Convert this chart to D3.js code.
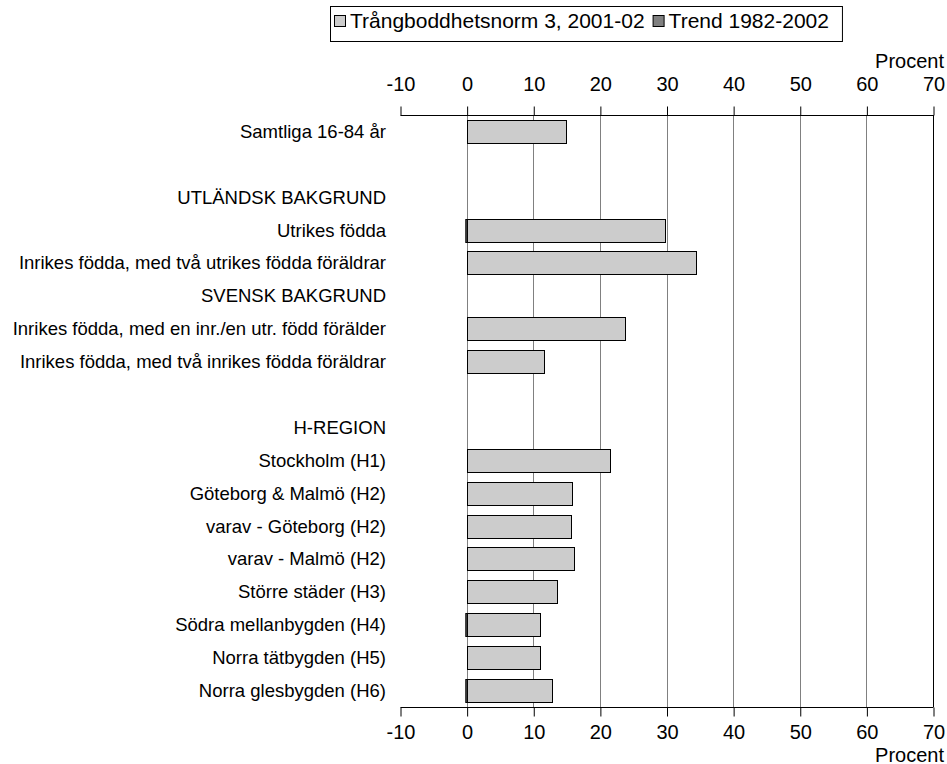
<!DOCTYPE html>
<html>
<head>
<meta charset="utf-8">
<script src="https://cdn.jsdelivr.net/npm/d3@7"></script>
<style>
  body { margin: 0; background: #fff; }
  svg { display: block; font-family: "Liberation Sans", Arial, sans-serif; }
</style>
</head>
<body>
<svg id="chart" width="947" height="764"></svg>
<script>
// ---- data ----
const categories = [
  "Samtliga 16-84 år",
  "",
  "UTLÄNDSK BAKGRUND",
  "Utrikes födda",
  "Inrikes födda, med två utrikes födda föräldrar",
  "SVENSK BAKGRUND",
  "Inrikes födda, med en inr./en utr. född förälder",
  "Inrikes födda, med två inrikes födda föräldrar",
  "",
  "H-REGION",
  "Stockholm (H1)",
  "Göteborg & Malmö (H2)",
  "varav - Göteborg (H2)",
  "varav - Malmö (H2)",
  "Större städer (H3)",
  "Södra mellanbygden (H4)",
  "Norra tätbygden (H5)",
  "Norra glesbygden (H6)"
];
const norm2001 = [14.8, null, null, 29.7, 34.3, null, 23.7, 11.6, null, null, 21.5, 15.7, 15.6, 16.0, 13.5, 10.9, 10.9, 12.8];
const trend8202 = [0, null, null, -0.2, 0, null, 0, 0, null, null, 0, 0, 0, 0, 0, -0.2, 0, -0.2];
const seriesNames = ["Trångboddhetsnorm 3, 2001-02", "Trend 1982-2002"];
const tickValues = [-10, 0, 10, 20, 30, 40, 50, 60, 70];
const axisTitle = "Procent";

// ---- layout ----
const svg = d3.select("#chart");
const pL = 400, pR = 933, pT = 115, pB = 707;
const x = d3.scaleLinear().domain([-10, 70]).range([pL, pR]);
const y = d3.scaleBand().domain(d3.range(categories.length)).range([pT, pB])
  .paddingInner(0.3).paddingOuter(0.15);

// gridlines
svg.append("g").selectAll("line").data(tickValues.filter(v => v >= 0))
  .join("line")
  .attr("x1", d => Math.round(x(d)) + 0.5).attr("x2", d => Math.round(x(d)) + 0.5)
  .attr("y1", pT).attr("y2", pB)
  .attr("stroke", d => d === 70 ? "#000" : "#808080").attr("stroke-width", 1);

// bars: main series
const rows = categories.map((c, i) => ({i, c, v: norm2001[i], t: trend8202[i]}));
svg.append("g").selectAll("rect").data(rows.filter(d => d.v != null))
  .join("rect")
  .attr("x", d => Math.round(x(Math.min(0, d.v))) + 0.5)
  .attr("y", d => Math.round(y(d.i)) + 0.5)
  .attr("width", d => Math.round(Math.abs(x(d.v) - x(0))))
  .attr("height", Math.round(y.bandwidth()))
  .attr("fill", "#cccccc").attr("stroke", "#000").attr("stroke-width", 1);

// bars: trend series
svg.append("g").selectAll("rect").data(rows.filter(d => d.t != null && d.t !== 0))
  .join("rect")
  .attr("x", d => x(Math.min(0, d.t)) + 0.5)
  .attr("y", d => Math.round(y(d.i)) + 0.5)
  .attr("width", d => Math.abs(x(d.t) - x(0)))
  .attr("height", Math.round(y.bandwidth()))
  .attr("fill", "#808080").attr("stroke", "#000").attr("stroke-width", 1);

// axes
const fmt = d => String(d);
const topAxis = d3.axisTop(x).tickValues(tickValues).tickSize(9).tickPadding(16).tickFormat(fmt);
const botAxis = d3.axisBottom(x).tickValues(tickValues).tickSize(9).tickPadding(8).tickFormat(fmt);
function styleAxis(g) {
  g.select(".domain").remove();
  g.selectAll(".tick line").attr("stroke", "#000");
  g.selectAll(".tick text").attr("fill", "#000").style("font-size", "20px")
    .style("font-family", "'Liberation Sans', Arial, sans-serif");
  g.append("line").attr("x1", pL).attr("x2", pR).attr("stroke", "#000");
}
const gt = svg.append("g").attr("transform", `translate(0.5,${pT + 0.5})`).call(topAxis);
styleAxis(gt);
const gb = svg.append("g").attr("transform", `translate(0.5,${pB + 0.5})`).call(botAxis);
styleAxis(gb);

svg.append("text").attr("x", 944).attr("y", 68).attr("text-anchor", "end")
  .style("font-size", "20px").text(axisTitle);
svg.append("text").attr("x", 944).attr("y", 761.5).attr("text-anchor", "end")
  .style("font-size", "20px").text(axisTitle);

// category labels
svg.append("g").selectAll("text").data(rows.filter(d => d.c !== ""))
  .join("text")
  .attr("x", 386)
  .attr("y", d => y(d.i) + y.bandwidth() / 2)
  .attr("dy", "0.35em")
  .attr("text-anchor", "end")
  .style("font-size", "18.5px")
  .text(d => d.c);

// legend
const lg = svg.append("g");
const lgBox = lg.append("rect").attr("y", 6.5).attr("height", 35).attr("fill", "#fff").attr("stroke", "#000");
const fills = ["#cccccc", "#808080"];
let cx = 334;
seriesNames.forEach((name, k) => {
  lg.append("rect").attr("x", cx + 0.5).attr("y", 15.5).attr("width", 11).attr("height", 11)
    .attr("fill", fills[k]).attr("stroke", "#000");
  const t = lg.append("text").attr("x", cx + 16).attr("y", 28).style("font-size", "21px").text(name);
  cx = cx + 16 + t.node().getComputedTextLength() + 8;
});
lgBox.attr("x", 330.5).attr("width", cx + 5 - 330);
</script>
</body>
</html>
